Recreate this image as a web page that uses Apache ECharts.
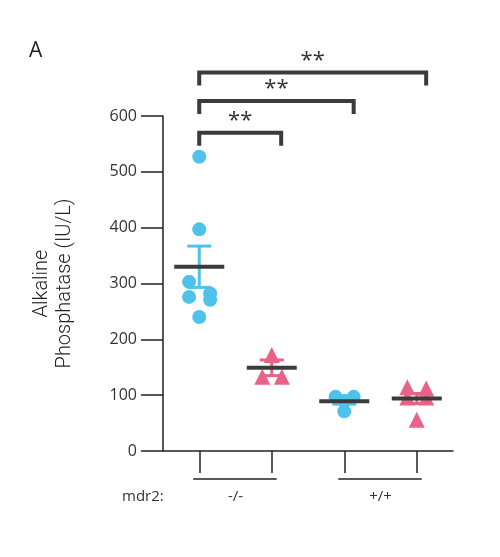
<!DOCTYPE html>
<html>
<head>
<meta charset="utf-8">
<title>Alkaline Phosphatase</title>
<script src="https://cdn.jsdelivr.net/npm/echarts@6/dist/echarts.min.js"></script>
<style>
  html, body { margin: 0; background: #fff; }
  #main { width: 500px; height: 557px; }
</style>
</head>
<body>
<div id="main"></div>
<script>
// four groups, left to right: mdr2 -/- (circles, triangles), mdr2 +/+ (circles, triangles)
var groupNames = ['-/- circles', '-/- triangles', '+/+ circles', '+/+ triangles'];
var genotypes = ['-/-', '+/+'];
var genotypeGroups = [[0, 1], [2, 3]];

// individual animals: [group position, value]
var koCircles = [[0, 527], [0, 397], [-0.14, 303], [-0.14, 276], [0.15, 282], [0.15, 271], [0, 240]];
var koTriangles = [[1, 172], [0.87, 133], [1.14, 133]];
var wtCircles = [[1.88, 97], [2.13, 97], [2, 90], [2, 71]];
var wtTriangles = [[2.87, 114], [3.13, 112], [2.87, 96], [3.13, 96], [3, 56]];

// mean and SEM per group
var means = [330, 149, 89, 94];
var sems = [37, 14, 5, 9];

// significance brackets
var sigPairs = [[0, 1], [0, 2], [0, 3]];
var sigLabels = ['**', '**', '**'];
var sigLevels = [570, 627, 678];

var BLUE = '#4fc2ec';
var PINK = '#ea6287';
var DARK = '#3b3b3b';
var AXIS = '#222';

var chart = echarts.init(document.getElementById('main'));

function renderMeanSem(params, api) {
    var i = api.value(0), m = api.value(1), s = api.value(2);
    var c = api.coord([i, m]);
    var hi = api.coord([i, m + s]);
    var lo = api.coord([i, m - s]);
    var color = i % 2 ? PINK : BLUE;
    var st = { stroke: color, lineWidth: 3 };
    return {
        type: 'group',
        children: [
            { type: 'line', shape: { x1: c[0], y1: hi[1], x2: c[0], y2: lo[1] }, style: st },
            { type: 'line', shape: { x1: c[0] - 12, y1: hi[1], x2: c[0] + 12, y2: hi[1] }, style: st },
            { type: 'line', shape: { x1: c[0] - 12, y1: lo[1], x2: c[0] + 12, y2: lo[1] }, style: st },
            { type: 'line', shape: { x1: c[0] - 25, y1: c[1], x2: c[0] + 25, y2: c[1] },
              style: { stroke: DARK, lineWidth: 4 } }
        ]
    };
}

function renderBracket(params, api) {
    var a = api.coord([api.value(0), api.value(2)]);
    var b = api.coord([api.value(1) + 0.13, api.value(2)]);
    var st = { stroke: DARK, lineWidth: 4, fill: null };
    return {
        type: 'group',
        children: [
            { type: 'polyline', shape: { points: [[a[0], a[1] + 13], [a[0], a[1]], [b[0], b[1]], [b[0], b[1] + 13]] },
              style: st },
            { type: 'text', x: (a[0] + b[0]) / 2, y: a[1] - 12,
              style: { text: sigLabels[params.dataIndex], font: '22px "Open Sans"', fill: '#333',
                       align: 'center', verticalAlign: 'middle' } }
        ]
    };
}

function renderGenotype(params, api) {
    var a = api.coord([api.value(0), 0]);
    var b = api.coord([api.value(1), 0]);
    return {
        type: 'group',
        children: [
            { type: 'line', shape: { x1: a[0] - 6, y1: a[1] + 28, x2: b[0] + 5, y2: a[1] + 28 },
              style: { stroke: AXIS, lineWidth: 1.5 } },
            { type: 'text', x: (a[0] + b[0]) / 2, y: a[1] + 46,
              style: { text: genotypes[params.dataIndex], font: '15px "Open Sans"', fill: '#333',
                       align: 'center', verticalAlign: 'middle' } }
        ]
    };
}

chart.setOption({
    animation: false,
    title: {
        text: 'A', left: 24, top: 36,
        textStyle: { fontSize: 21, fontWeight: 'normal', color: AXIS, fontFamily: 'Open Sans' }
    },
    graphic: [{
        type: 'text', x: 122, y: 497,
        style: { text: 'mdr2:', font: '15px "Open Sans"', fill: '#333', verticalAlign: 'middle' }
    }],
    grid: { left: 163, right: 47, top: 116, bottom: 106 },
    xAxis: [
        {
            type: 'category',
            data: groupNames,
            axisLine: { show: true, onZero: false, lineStyle: { color: AXIS, width: 1.5 } },
            axisTick: { show: true, alignWithLabel: true, length: 22, lineStyle: { color: AXIS, width: 1.5 } },
            axisLabel: { show: true, color: 'rgba(0,0,0,0)', fontSize: 1 }
        },
        { type: 'value', min: -0.5, max: 3.5, show: false }
    ],
    yAxis: {
        type: 'value',
        min: 0, max: 600, interval: 100,
        name: 'Alkaline\nPhosphatase (IU/L)',
        nameLocation: 'middle',
        nameGap: 87,
        nameTextStyle: { fontSize: 20, lineHeight: 23, color: AXIS, fontFamily: 'Roboto', fontWeight: 300 },
        axisLine: { show: true, onZero: false, lineStyle: { color: AXIS, width: 1.5 } },
        axisTick: { show: true, length: 22, lineStyle: { color: AXIS, width: 1.5 } },
        axisLabel: { margin: 26, fontSize: 16, color: '#333', fontFamily: 'Open Sans' },
        splitLine: { show: false }
    },
    series: [
        { type: 'scatter', xAxisIndex: 1, data: koCircles, symbol: 'circle', symbolSize: 14,
          itemStyle: { color: BLUE, opacity: 1 } },
        { type: 'scatter', xAxisIndex: 1, data: koTriangles, symbol: 'triangle', symbolSize: 16,
          itemStyle: { color: PINK, opacity: 1 } },
        { type: 'scatter', xAxisIndex: 1, data: wtCircles, symbol: 'circle', symbolSize: 14,
          itemStyle: { color: BLUE, opacity: 1 } },
        { type: 'scatter', xAxisIndex: 1, data: wtTriangles, symbol: 'triangle', symbolSize: 16,
          itemStyle: { color: PINK, opacity: 1 } },
        { type: 'custom', xAxisIndex: 1, z: 5, clip: false, renderItem: renderMeanSem,
          encode: { x: 0, y: 1 },
          data: means.map(function (m, i) { return [i, m, sems[i]]; }) },
        { type: 'custom', xAxisIndex: 1, z: 5, clip: false, renderItem: renderBracket,
          encode: { x: 0, y: 2 },
          data: sigPairs.map(function (p, k) { return [p[0], p[1], sigLevels[k]]; }) },
        { type: 'custom', xAxisIndex: 1, z: 5, clip: false, renderItem: renderGenotype,
          encode: { x: 0 },
          data: genotypeGroups }
    ]
});
</script>
</body>
</html>
